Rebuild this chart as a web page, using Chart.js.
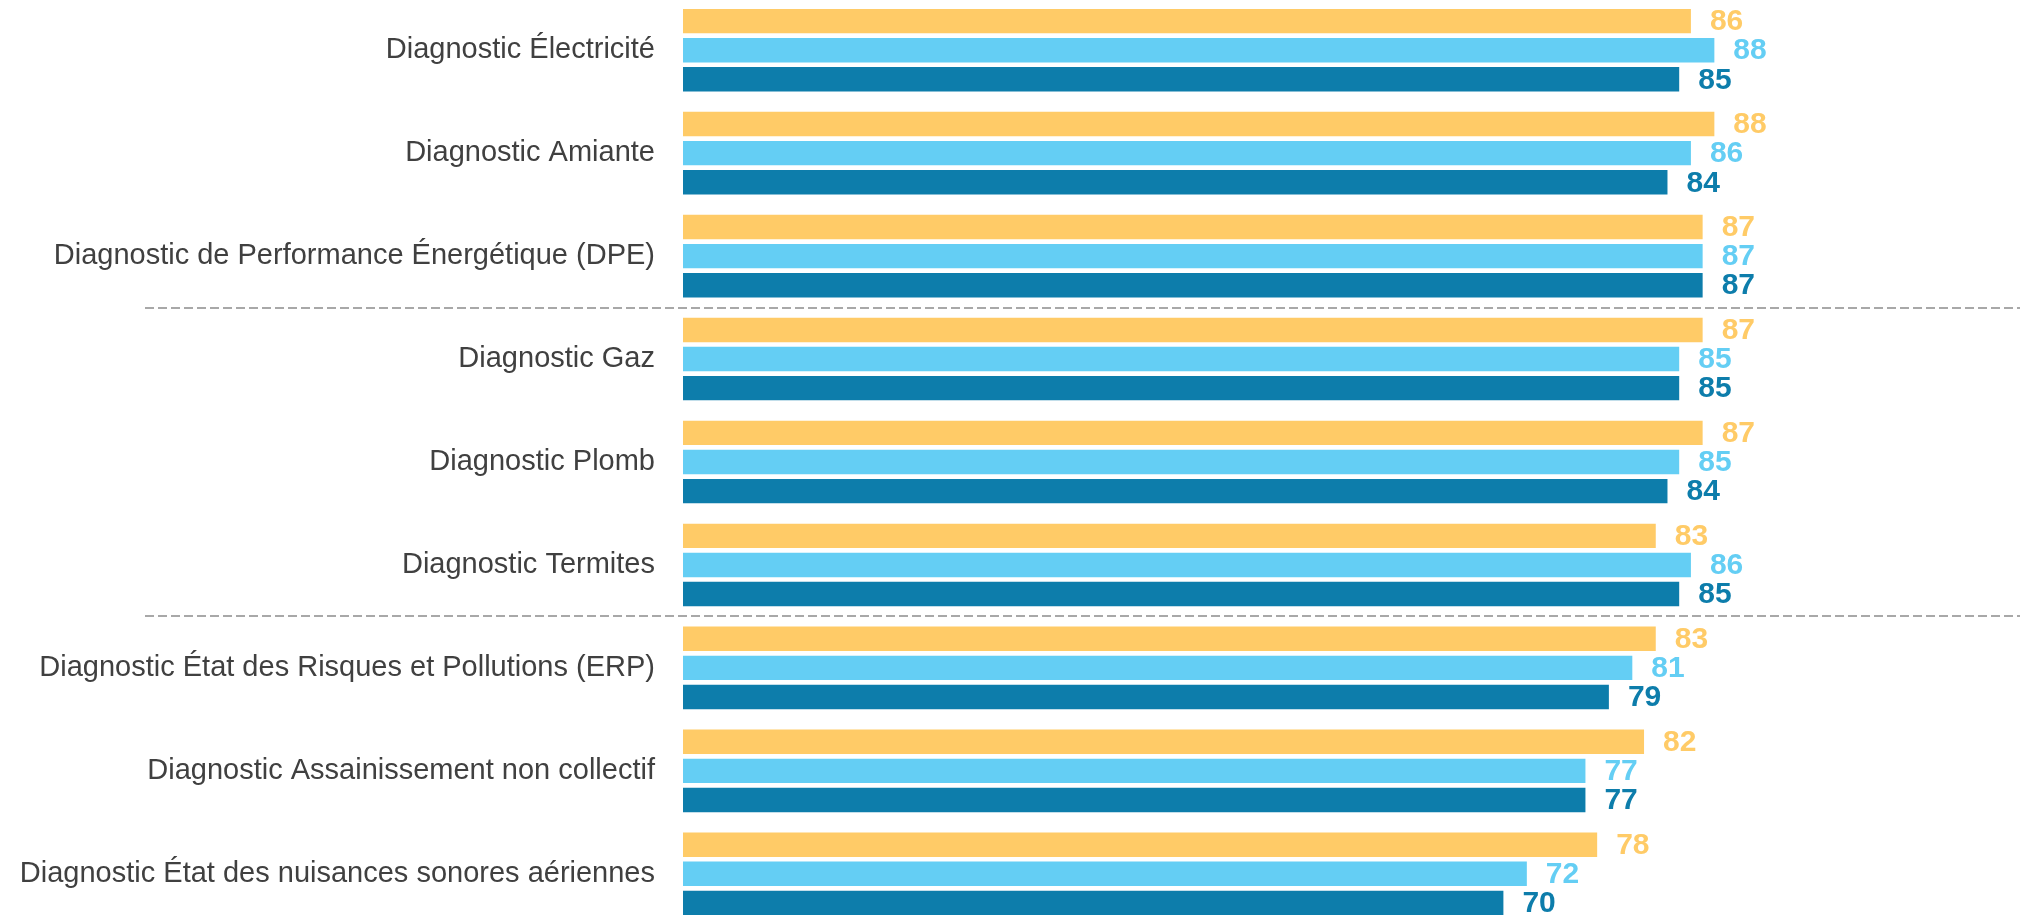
<!DOCTYPE html>
<html lang="fr">
<head>
<meta charset="utf-8">
<title>Satisfaction par diagnostic</title>
<script src="https://cdn.jsdelivr.net/npm/chart.js@4/dist/chart.umd.min.js"></script>
<style>
  html, body { margin: 0; padding: 0; background: #ffffff; overflow: hidden; }
  /* plot is a touch taller than the window so the bars fill it edge to edge */
  #diagChart { display: block; margin-top: -2px; }
</style>
</head>
<body>
<canvas id="diagChart" width="2020" height="928"></canvas>
<script>
const categories = [
  'Diagnostic Électricité',
  'Diagnostic Amiante',
  'Diagnostic de Performance Énergétique (DPE)',
  'Diagnostic Gaz',
  'Diagnostic Plomb',
  'Diagnostic Termites',
  'Diagnostic État des Risques et Pollutions (ERP)',
  'Diagnostic Assainissement non collectif',
  'Diagnostic État des nuisances sonores aériennes'
];

const seriesOrange = [86, 88, 87, 87, 87, 83, 83, 82, 78];
const seriesLight = [88, 86, 87, 85, 85, 86, 81, 77, 72];
const seriesDark = [85, 84, 87, 85, 84, 85, 79, 77, 70];

// separators are drawn after these category indexes
const groupBreaks = [2, 5];

const colors = ['#FFCB67', '#64CEF4', '#0D7DAB'];

document.addEventListener("DOMContentLoaded", () => {
  renderDiagChart();
});

// value printed to the right of each bar, same colour as the bar
const valueLabels = {
  id: 'valueLabels',
  afterDatasetsDraw(chart) {
    const ctx = chart.ctx;
    ctx.save();
    ctx.font = 'bold 30px "Liberation Sans", Arial, sans-serif';
    ctx.textAlign = 'left';
    ctx.textBaseline = 'middle';
    chart.data.datasets.forEach((ds, i) => {
      const meta = chart.getDatasetMeta(i);
      meta.data.forEach((bar, j) => {
        ctx.fillStyle = ds.backgroundColor;
        ctx.fillText(String(ds.data[j]), bar.x + 19, bar.y + 1);
      });
    });
    ctx.restore();
  }
};

// dashed lines between the groups of diagnostics
const groupSeparators = {
  id: 'groupSeparators',
  afterDraw(chart) {
    const ctx = chart.ctx;
    const y = chart.scales.y;
    ctx.save();
    ctx.strokeStyle = '#A8A8A8';
    ctx.lineWidth = 2;
    ctx.setLineDash([9, 4]);
    groupBreaks.forEach(idx => {
      const py = Math.round((y.getPixelForValue(idx) + y.getPixelForValue(idx + 1)) / 2);
      ctx.beginPath();
      ctx.moveTo(145, py);
      ctx.lineTo(chart.width, py);
      ctx.stroke();
    });
    ctx.restore();
  }
};

function renderDiagChart() {
  const canvas = document.getElementById("diagChart");
  if (!canvas) {
    console.error("Element with ID 'diagChart' not found.");
    return;
  }

  const ctx = canvas.getContext("2d");
  new Chart(ctx, {
    type: 'bar',
    data: {
      labels: categories,
      datasets: [
        { data: seriesOrange, backgroundColor: colors[0] },
        { data: seriesLight, backgroundColor: colors[1] },
        { data: seriesDark, backgroundColor: colors[2] }
      ]
    },
    options: {
      indexAxis: 'y',
      responsive: false,
      animation: false,
      devicePixelRatio: 1,
      categoryPercentage: 0.848,
      barPercentage: 0.84,
      layout: {
        padding: { top: 0, bottom: 0, left: 0, right: 165 }
      },
      scales: {
        x: {
          display: false,
          min: 0,
          max: 100
        },
        y: {
          // tick marks stay hidden, tickLength only pushes the labels left
          grid: { display: false, drawTicks: true, tickLength: 28 },
          border: { display: false },
          afterFit(scale) { scale.width = 683; },
          ticks: {
            color: '#404040',
            padding: 0,
            font: { family: '"Liberation Sans", Arial, sans-serif', size: 29, lineHeight: 0.05 }
          }
        }
      },
      plugins: {
        legend: { display: false },
        tooltip: { enabled: false }
      }
    },
    plugins: [valueLabels, groupSeparators]
  });
}
</script>
</body>
</html>
